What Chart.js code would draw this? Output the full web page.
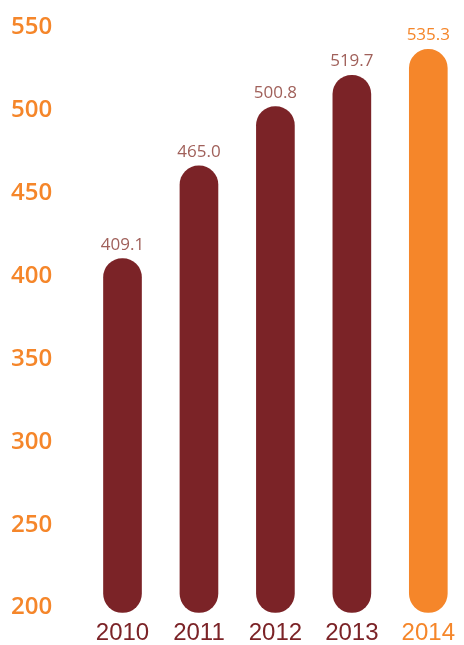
<!DOCTYPE html>
<html>
<head>
<meta charset="utf-8">
<script src="https://cdn.jsdelivr.net/npm/chart.js@4"></script>
<style>
  html, body { margin: 0; padding: 0; background: #fff; }
  #wrap { width: 464px; height: 645px; }
</style>
</head>
<body>
<div id="wrap"><canvas id="grafico" width="464" height="645"></canvas></div>
<script>
const years = ['2010', '2011', '2012', '2013', '2014'];
const values = [409.1, 465.0, 500.8, 519.7, 535.3];
const yTicks = [200, 250, 300, 350, 400, 450, 500, 550];

const darkRed = '#7b2327';
const orange = '#f5862a';
const lastIdx = years.length - 1;
const yMin = 195.5;

// value printed above each capsule
const valueLabels = {
  id: 'valueLabels',
  afterDatasetsDraw(chart) {
    const ctx = chart.ctx;
    const meta = chart.getDatasetMeta(0);
    ctx.save();
    ctx.font = '17px "Open Sans"';
    ctx.textAlign = 'center';
    ctx.textBaseline = 'alphabetic';
    meta.data.forEach((bar, i) => {
      ctx.fillStyle = i === lastIdx ? orange : '#a0605a';
      ctx.fillText(values[i].toFixed(1), bar.x, bar.y - 9);
    });
    ctx.restore();
  }
};

const ctx = document.getElementById('grafico').getContext('2d');

const chart = new Chart(ctx, {
  type: 'bar',
  data: {
    labels: years,
    datasets: [{
      data: values,
      base: yMin,
      backgroundColor: years.map((y, i) => i === lastIdx ? orange : darkRed),
      barThickness: 38,
      borderRadius: 19,
      borderSkipped: false,
      clip: false
    }]
  },
  options: {
    responsive: false,
    animation: false,
    layout: { padding: { top: 8.5, right: 26.5, bottom: 0, left: 11 } },
    plugins: {
      legend: { display: false },
      tooltip: { enabled: false }
    },
    scales: {
      x: {
        offset: false,
        grid: { display: false, drawTicks: false },
        border: { display: false },
        afterFit: scale => { scale.height = 32.5; },
        ticks: {
          padding: 9,
          font: { family: '"Liberation Sans", Arial', size: 24, lineHeight: 1 },
          color: c => c.index === lastIdx ? orange : darkRed
        }
      },
      y: {
        min: yMin,
        max: 560,
        grid: { display: false, drawTicks: false },
        border: { display: false },
        afterBuildTicks: scale => {
          scale.ticks = yTicks.map(v => ({ value: v }));
        },
        afterFit: scale => { scale.width = 111.5; },
        ticks: {
          padding: 0,
          crossAlign: 'far',
          labelOffset: 2.5,
          font: { family: '"Open Sans"', size: 24, weight: '600', lineHeight: 0.5 },
          color: orange
        }
      }
    }
  },
  plugins: [valueLabels]
});
</script>
</body>
</html>
